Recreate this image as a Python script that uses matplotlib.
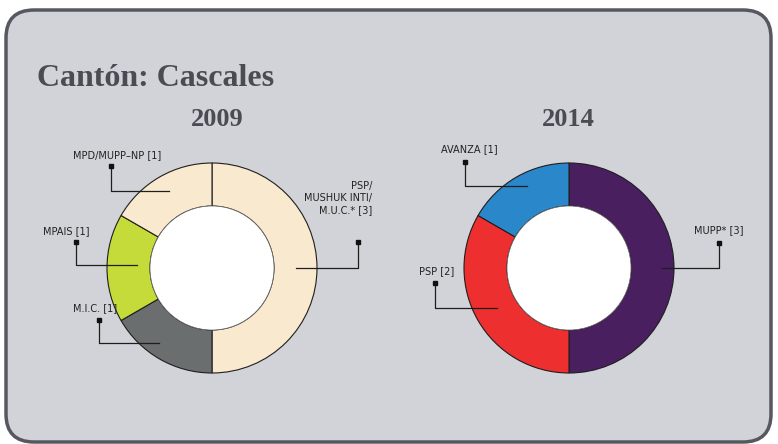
import matplotlib
matplotlib.use("Agg")
import matplotlib.pyplot as plt
import numpy as np
from matplotlib.patches import FancyBboxPatch, Circle

W, H = 778, 444

TITLE = "Cantón: Cascales"
YEARS = ["2009", "2014"]

PARTIES_2009 = ["PSP/\nMUSHUK INTI/\nM.U.C.*", "M.I.C.", "MPAIS", "MPD/MUPP\u2013NP"]
SEATS_2009 = [3, 1, 1, 1]
COLORS_2009 = ["#f9e9cf", "#6b6e6e", "#c5db3a", "#f9e9cf"]

PARTIES_2014 = ["MUPP*", "PSP", "AVANZA"]
SEATS_2014 = [3, 2, 1]
COLORS_2014 = ["#4a1f60", "#ee2f2f", "#2a87c9"]

# layout (pixel coords, y from top)
CENTERS = [(212, 268), (569, 268)]
R_OUT, R_IN = 105, 62
# (anchor angle, anchor radius, dot x, dot y, text x, text y, ha)
LEADERS_2009 = [(0, 84, 358, 242, 372, 198, "right"),
                (235, 92, 99, 320, 95, 308, "center"),
                (178, 75, 76, 242, 66, 231, "center"),
                (119, 88, 111, 166, 117, 155, "center")]
LEADERS_2014 = [(0, 93, 719, 243, 719, 230, "center"),
                (209, 82, 435, 283, 437, 271, "center"),
                (117, 92, 465, 162, 469, 149, "center")]

BG = "#d2d3d8"


def Y(y):
    return H - y


fig = plt.figure(figsize=(W / 100, H / 100), dpi=100)
ax = fig.add_axes([0, 0, 1, 1])

box = FancyBboxPatch((6, Y(442)), 765, 432, boxstyle="round,pad=0,rounding_size=28",
                     fc=BG, ec="#57575f", lw=2.5, zorder=0)
ax.add_patch(box)

ax.text(37, Y(78), TITLE, fontsize=23, fontweight="bold", family="Liberation Serif",
        color="#4b4b53", ha="left", va="center")

sets = [(PARTIES_2009, SEATS_2009, COLORS_2009, LEADERS_2009),
        (PARTIES_2014, SEATS_2014, COLORS_2014, LEADERS_2014)]
year_x = [217, 568]

for (parties, seats, colors, leaders), (cx, cy), year, yx in zip(sets, CENTERS, YEARS, year_x):
    ax.pie(seats, colors=colors, radius=R_OUT, center=(cx, Y(cy)), startangle=90,
           counterclock=False, frame=True,
           wedgeprops=dict(width=R_OUT - R_IN, edgecolor="#1e1e1e", linewidth=0.8))
    ax.add_patch(Circle((cx, Y(cy)), R_IN, fc="white", ec="#6a6a6a", lw=0.5, zorder=3))
    ax.text(yx, Y(119), year, fontsize=19, fontweight="bold", family="Liberation Serif",
            color="#4b4b53", ha="center", va="center")
    for name, n, (ang, r, dx, dy, tx, ty, ha) in zip(parties, seats, leaders):
        a = np.deg2rad(ang)
        axp = cx + r * np.cos(a)
        ayp = Y(cy) + r * np.sin(a)
        ax.plot([axp, dx, dx], [ayp, ayp, Y(dy)], color="#1e1e1e", lw=0.9, zorder=4)
        ax.plot([dx], [Y(dy)], marker="s", ms=3.2, color="#111111", zorder=5)
        ax.text(tx, Y(ty), "%s [%d]" % (name, n), fontsize=7.8, family="DejaVu Sans",
                fontstretch="condensed", color="#222222", ha=ha, va="center",
                multialignment=ha, linespacing=1.3)

ax.set_xlim(0, W)
ax.set_ylim(0, H)
ax.set_aspect("equal")
ax.axis("off")
fig.savefig("out.png", dpi=100, facecolor="white")
